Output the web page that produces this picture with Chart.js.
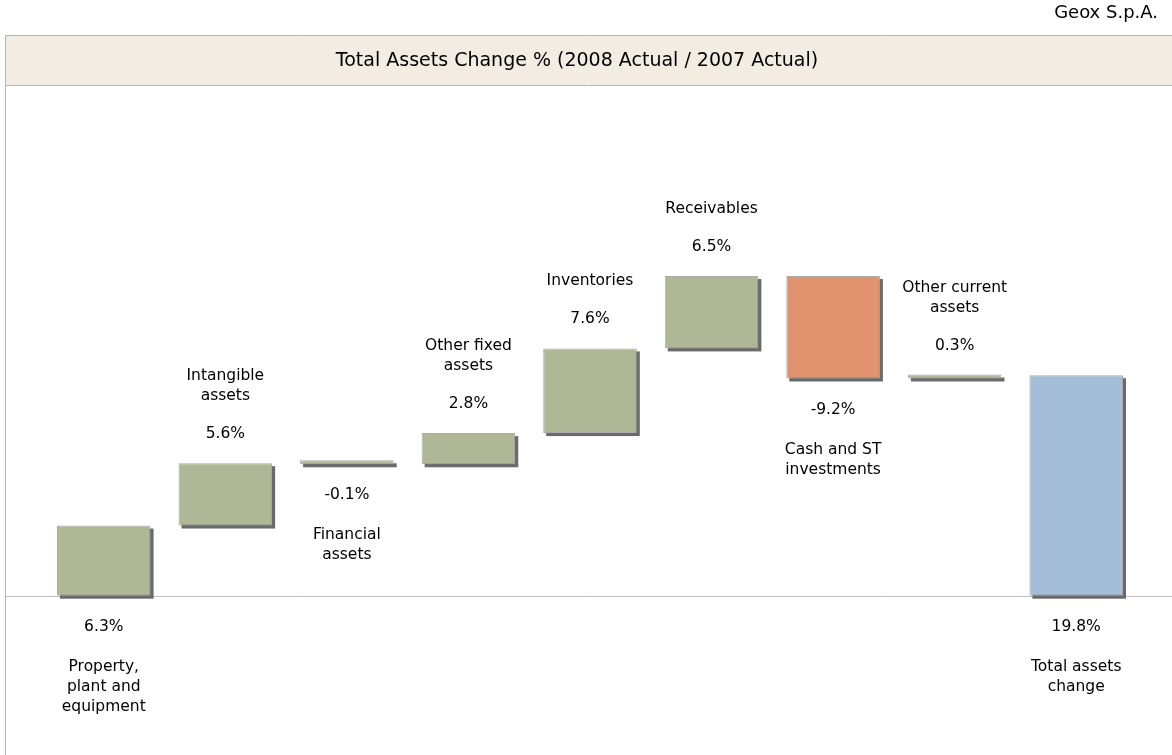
<!DOCTYPE html>
<html>
<head>
<meta charset="utf-8">
<script src="https://cdn.jsdelivr.net/npm/chart.js@4"></script>
<style>
  html, body { margin: 0; padding: 0; background: #fff; }
  #wrap { position: relative; width: 1172px; height: 755px; }
</style>
</head>
<body>
<div id="wrap"><canvas id="chart" width="1172" height="755"></canvas></div>
<script>
// waterfall data
const categories = [
    ['Property,', 'plant and', 'equipment'],
    ['Intangible', 'assets'],
    ['Financial', 'assets'],
    ['Other fixed', 'assets'],
    ['Inventories'],
    ['Receivables'],
    ['Cash and ST', 'investments'],
    ['Other current', 'assets'],
    ['Total assets', 'change']
];
const changes = [6.3, 5.6, -0.1, 2.8, 7.6, 6.5, -9.2, 0.3];
const totalChange = 19.8;

const GREEN = '#B0B796';
const ORANGE = '#E0936E';
const BLUE = '#A3BED6';
const barColors = [GREEN, GREEN, GREEN, GREEN, GREEN, GREEN, ORANGE, GREEN, BLUE];

const FONT = '"DejaVu Sans", Verdana, sans-serif';

// build floating ranges from running total
const ranges = [];
let running = 0;
changes.forEach(c => {
    ranges.push([running, running + c]);
    running += c;
});
ranges.push([0, totalChange]);
const shownValues = [...changes, totalChange];

// drop shadow behind each bar (offset down/right)
const shadowPlugin = {
    id: 'barShadow',
    beforeDatasetsDraw(chart) {
        const ctx = chart.ctx;
        const meta = chart.getDatasetMeta(0);
        ctx.save();
        ctx.fillStyle = '#6A6A6A';
        meta.data.forEach(bar => {
            const p = bar.getProps(['x', 'y', 'base', 'width'], true);
            const top = Math.min(p.y, p.base);
            const h = Math.abs(p.base - p.y);
            ctx.fillRect(p.x - p.width / 2 + 3, top + 3, p.width, h);
        });
        ctx.restore();
    }
};

const framePlugin = {
    id: 'frame',
    beforeDraw(chart) {
        const ctx = chart.ctx;
        const w = chart.width;
        const y0 = chart.scales.y.getPixelForValue(0);
        ctx.save();
        // title bar
        ctx.fillStyle = '#F2ECE2';
        ctx.fillRect(5, 35, w - 5, 50);
        ctx.strokeStyle = '#B4B4B4';
        ctx.lineWidth = 1;
        ctx.beginPath();
        ctx.moveTo(5.5, 755);
        ctx.lineTo(5.5, 35.5);
        ctx.lineTo(w, 35.5);
        ctx.moveTo(5, 85.5);
        ctx.lineTo(w, 85.5);
        ctx.stroke();
        // zero line
        ctx.strokeStyle = '#C0C0C0';
        ctx.beginPath();
        ctx.moveTo(5, Math.round(y0) + 0.5);
        ctx.lineTo(w, Math.round(y0) + 0.5);
        ctx.stroke();
        ctx.fillStyle = '#000';
        ctx.textBaseline = 'middle';
        ctx.font = '19px ' + FONT;
        ctx.textAlign = 'center';
        ctx.fillText('Total Assets Change % (2008 Actual / 2007 Actual)', 577, 61);
        ctx.font = '18px ' + FONT;
        ctx.textAlign = 'right';
        ctx.fillText('Geox S.p.A.', 1158, 13);
        ctx.restore();
    }
};

const labelPlugin = {
    id: 'waterfallLabels',
    afterDatasetsDraw(chart) {
        const ctx = chart.ctx;
        const meta = chart.getDatasetMeta(0);
        const yScale = chart.scales.y;
        const last = ranges.length - 1;
        ctx.save();
        ctx.fillStyle = '#000';
        ctx.textAlign = 'center';
        ctx.textBaseline = 'middle';
        ctx.font = '15.5px ' + FONT;
        meta.data.forEach((bar, i) => {
            const [a, b] = ranges[i];
            const top = yScale.getPixelForValue(Math.max(a, b));
            const bottom = yScale.getPixelForValue(Math.min(a, b));
            const lines = categories[i];
            const valueText = shownValues[i].toFixed(1) + '%';
            const below = i === 0 || i === last || shownValues[i] < 0;
            if (below) {
                const vy = bottom + 31;
                ctx.fillText(valueText, bar.x, vy);
                lines.forEach((ln, k) => ctx.fillText(ln, bar.x, vy + 40 + k * 20));
            } else {
                const vy = top - 29;
                ctx.fillText(valueText, bar.x, vy);
                lines.forEach((ln, k) => ctx.fillText(ln, bar.x, vy - 38 - (lines.length - 1 - k) * 20));
            }
        });
        ctx.restore();
    }
};

new Chart(document.getElementById('chart'), {
    type: 'bar',
    data: {
        labels: categories,
        datasets: [{
            data: ranges,
            backgroundColor: barColors,
            borderColor: '#ABABAB',
            borderWidth: 1,
            borderSkipped: false,
            barPercentage: 0.77,
            categoryPercentage: 1,
            minBarLength: 4
        }]
    },
    options: {
        responsive: false,
        animation: false,
        layout: { padding: { left: 43, right: 35, top: 100, bottom: 10 } },
        plugins: {
            legend: { display: false },
            title: { display: false },
            tooltip: { enabled: false }
        },
        scales: {
            x: { display: false, offset: true, grid: { display: false } },
            y: { display: false, min: -13.4, max: 44.5 }
        }
    },
    plugins: [framePlugin, shadowPlugin, labelPlugin]
});
</script>
</body>
</html>
